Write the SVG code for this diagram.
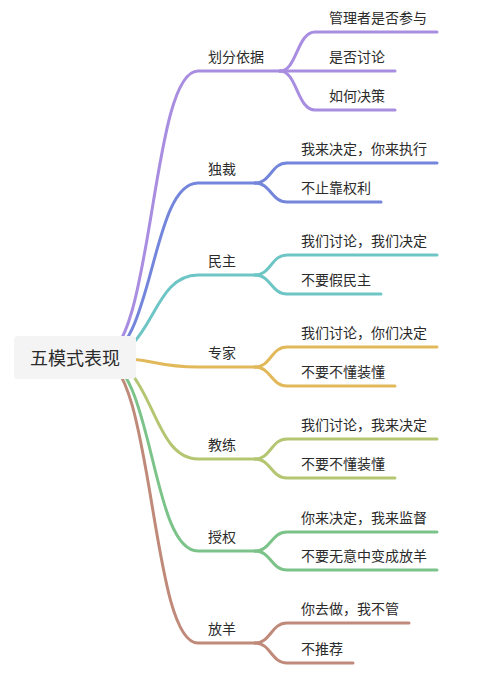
<svg xmlns="http://www.w3.org/2000/svg" width="489" height="674" viewBox="0 0 489 674">
<style>
  .e { fill: none; stroke-width: 3; stroke-linecap: round; }
  .t { font-family: "Noto Sans CJK SC", "Noto Sans", sans-serif; font-size: 14px; fill: #2b2b2b; }
  .root { font-family: "Noto Sans CJK SC", "Noto Sans", sans-serif; font-size: 18px; fill: #2b2b2b; }
  .c1 { stroke: #a88de0; }
  .c2 { stroke: #7486db; }
  .c3 { stroke: #6ec5c5; }
  .c4 { stroke: #e2b95a; }
  .c5 { stroke: #b5c672; }
  .c6 { stroke: #7cc389; }
  .c7 { stroke: #c08a7a; }
</style>
<rect width="489" height="674" fill="#ffffff"/>
<g id="connectors">
  <!-- root to level 1 -->
  <path class="e c1" d="M100,358 C154,358 150,71 198,71 L280,71"/>
  <path class="e c2" d="M100,358 C154,358 150,183 198,183 L255,183"/>
  <path class="e c3" d="M100,358 C154,358 150,275 198,275 L255,275"/>
  <path class="e c4" d="M110,358 C154,358 154,367 198,367 L255,367"/>
  <path class="e c5" d="M100,358 C154,358 150,459 198,459 L255,459"/>
  <path class="e c6" d="M100,358 C154,358 150,551 198,551 L255,551"/>
  <path class="e c7" d="M100,358 C154,358 150,643 198,643 L255,643"/>
  <!-- 划分依据 children -->
  <path class="e c1" d="M280,71 C297,71 297,32 315,32 L437,32"/>
  <path class="e c1" d="M280,71 L395,71"/>
  <path class="e c1" d="M280,71 C297,71 297,110 315,110 L395,110"/>
  <!-- 独裁 -->
  <path class="e c2" d="M255,183 C271,183 271,163 287,163 L437,163"/>
  <path class="e c2" d="M255,183 C271,183 271,202 287,202 L381,202"/>
  <!-- 民主 -->
  <path class="e c3" d="M255,275 C271,275 271,255 287,255 L437,255"/>
  <path class="e c3" d="M255,275 C271,275 271,294 287,294 L381,294"/>
  <!-- 专家 -->
  <path class="e c4" d="M255,367 C271,367 271,347 287,347 L437,347"/>
  <path class="e c4" d="M255,367 C271,367 271,386 287,386 L395,386"/>
  <!-- 教练 -->
  <path class="e c5" d="M255,459 C271,459 271,439 287,439 L437,439"/>
  <path class="e c5" d="M255,459 C271,459 271,478 287,478 L395,478"/>
  <!-- 授权 -->
  <path class="e c6" d="M255,551 C271,551 271,532 287,532 L437,532"/>
  <path class="e c6" d="M255,551 C271,551 271,570 287,570 L437,570"/>
  <!-- 放羊 -->
  <path class="e c7" d="M255,643 C271,643 271,623 287,623 L409,623"/>
  <path class="e c7" d="M255,643 C271,643 271,663 287,663 L353,663"/>
</g>
<g id="root">
  <rect x="14" y="336" width="122" height="43" rx="4" fill="#f4f4f4"/>
  <text class="root" x="75" y="364.5" text-anchor="middle">五模式表现</text>
</g>
<g id="n1"><text class="t" x="208" y="62">划分依据</text></g>
<g id="n1a"><text class="t" x="329" y="23">管理者是否参与</text></g>
<g id="n1b"><text class="t" x="329" y="62">是否讨论</text></g>
<g id="n1c"><text class="t" x="329" y="101">如何决策</text></g>
<g id="n2"><text class="t" x="208" y="174">独裁</text></g>
<g id="n2a"><text class="t" x="301" y="154">我来决定，你来执行</text></g>
<g id="n2b"><text class="t" x="301" y="193">不止靠权利</text></g>
<g id="n3"><text class="t" x="208" y="266">民主</text></g>
<g id="n3a"><text class="t" x="301" y="246">我们讨论，我们决定</text></g>
<g id="n3b"><text class="t" x="301" y="285">不要假民主</text></g>
<g id="n4"><text class="t" x="208" y="358">专家</text></g>
<g id="n4a"><text class="t" x="301" y="338">我们讨论，你们决定</text></g>
<g id="n4b"><text class="t" x="301" y="377">不要不懂装懂</text></g>
<g id="n5"><text class="t" x="208" y="450">教练</text></g>
<g id="n5a"><text class="t" x="301" y="430">我们讨论，我来决定</text></g>
<g id="n5b"><text class="t" x="301" y="469">不要不懂装懂</text></g>
<g id="n6"><text class="t" x="208" y="542">授权</text></g>
<g id="n6a"><text class="t" x="301" y="523">你来决定，我来监督</text></g>
<g id="n6b"><text class="t" x="301" y="561">不要无意中变成放羊</text></g>
<g id="n7"><text class="t" x="208" y="634">放羊</text></g>
<g id="n7a"><text class="t" x="301" y="614">你去做，我不管</text></g>
<g id="n7b"><text class="t" x="301" y="654">不推荐</text></g>
</svg>
